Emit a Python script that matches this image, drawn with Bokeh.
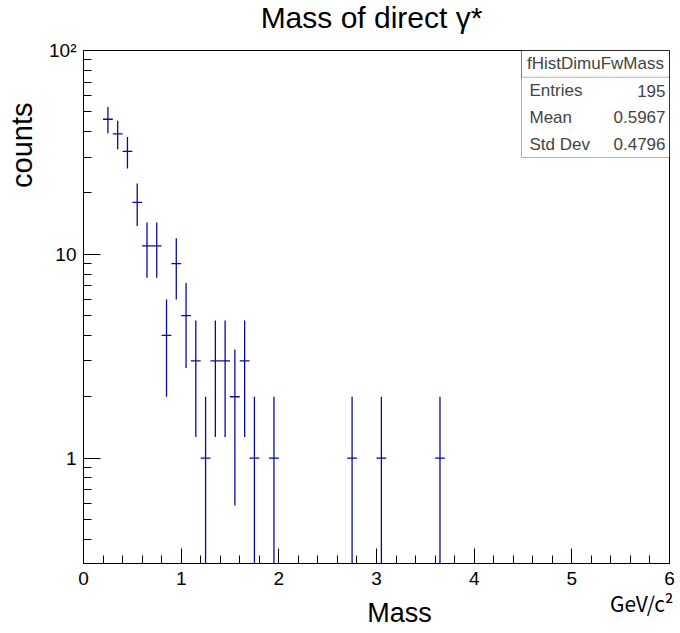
import numpy as np
from bokeh.plotting import figure
from bokeh.models import FixedTicker, Label, BoxAnnotation, CustomJSTickFormatter, Title
from bokeh.embed import file_html
from bokeh.resources import INLINE

# ---- data ----
bin_centers = [0.25, 0.35, 0.45, 0.55, 0.65, 0.75, 0.85, 0.95, 1.05, 1.15,
               1.25, 1.35, 1.45, 1.55, 1.65, 1.75, 1.95, 2.75, 3.05, 3.65]
counts = [46, 39, 32, 18, 11, 11, 4, 9, 5, 3,
          1, 3, 3, 2, 3, 1, 1, 1, 1, 1]
bin_width = 0.1

x_major_ticks = [0, 1, 2, 3, 4, 5, 6]
x_minor_ticks = [round(0.2 * i, 1) for i in range(31)]
y_major_ticks = [1, 10, 100]
y_major_labels = ["1", "10", "10²"]
y_minor_ticks = [0.3, 0.4, 0.5, 0.6, 0.7, 0.8, 0.9,
                 2, 3, 4, 5, 6, 7, 8, 9,
                 20, 30, 40, 50, 60, 70, 80, 90]

stat_title = "fHistDimuFwMass"
stat_names = ["Entries", "Mean", "Std Dev"]
stat_values = ["195", "0.5967", "0.4796"]

title_text = "Mass of direct γ*"
x_title = "Mass"
x_unit = "GeV/c²"
y_title = "counts"

# ---- figure / layout ----
FRAME_L, FRAME_R, FRAME_T, FRAME_B = 83, 11, 50, 70
W, H = 680, 633
X0, X1 = 0, 6
Y0, Y1 = 0.304, 100
p = figure(width=W, height=H, x_range=(X0, X1), y_range=(Y0, Y1),
           y_axis_type="log", output_backend="svg", toolbar_location=None,
           min_border_left=FRAME_L, min_border_right=FRAME_R,
           min_border_top=FRAME_T, min_border_bottom=FRAME_B)
p.background_fill_color = "white"
p.border_fill_color = "white"
p.outline_line_color = "black"
p.outline_line_width = 1
p.xgrid.visible = False
p.ygrid.visible = False

FW = W - FRAME_L - FRAME_R
FH = H - FRAME_T - FRAME_B

def sx(cx):
    return cx - FRAME_L

def sy(cy):
    return H - FRAME_B - cy

def dx(cx):
    # canvas pixel -> data x (frame scale)
    return X0 + (cx - FRAME_L) / FW * (X1 - X0)

def dy(cy):
    # canvas pixel -> data y (log frame scale)
    l0, l1 = np.log10(Y0), np.log10(Y1)
    return 10 ** (l0 + (H - FRAME_B - cy) / FH * (l1 - l0))

xa = p.xaxis[0]
ya = p.yaxis[0]
xa.ticker = FixedTicker(ticks=x_major_ticks, minor_ticks=x_minor_ticks)
ya.ticker = FixedTicker(ticks=y_major_ticks, minor_ticks=y_minor_ticks)
ya.formatter = CustomJSTickFormatter(
    args=dict(vals=y_major_ticks, labs=y_major_labels),
    code="const i = vals.findIndex(v => Math.abs(v - tick) < 1e-6*Math.max(1,v)); return i >= 0 ? labs[i] : String(tick);")

for ax, mj in ((xa, 15), (ya, 17)):
    ax.major_tick_in = mj
    ax.major_tick_out = 0
    ax.minor_tick_in = 8
    ax.minor_tick_out = 0
    ax.axis_line_color = "black"
    ax.major_tick_line_color = "black"
    ax.minor_tick_line_color = "black"
    ax.major_label_text_font = "Liberation Sans"
    ax.major_label_text_font_size = "19px"
    ax.major_label_text_color = "black"
xa.major_label_standoff = 8
ya.major_label_standoff = 7

# ---- histogram with error bars ----
x = np.array(bin_centers, dtype=float)
y = np.array(counts, dtype=float)
err = np.sqrt(y)
lo = np.where(y - err > 0, y - err, 1e-3)
col = "#0a0a9e"
p.segment(x0=x, y0=lo, x1=x, y1=y + err, line_color=col, line_width=1.3)
p.segment(x0=x - bin_width / 2, y0=y, x1=x + bin_width / 2, y1=y,
          line_color=col, line_width=1.3)

# ---- stats box ----
box_l, box_r, box_t, box_b = 521, 669, 50, 157
row_h = (box_b - box_t) / 4.0
p.add_layout(BoxAnnotation(left=sx(box_l), right=sx(box_r), top=sy(box_t), bottom=sy(box_b),
                           left_units="screen", right_units="screen",
                           top_units="screen", bottom_units="screen",
                           fill_color="white", fill_alpha=1.0,
                           line_color="black", line_width=1, level="overlay"))
p.add_layout(BoxAnnotation(left=sx(box_l), right=sx(box_r), top=sy(box_t), bottom=sy(box_t + row_h),
                           left_units="screen", right_units="screen",
                           top_units="screen", bottom_units="screen",
                           fill_alpha=0.0, line_color="black", line_width=1, level="overlay"))
p.add_layout(Label(x=sx((box_l + box_r) / 2), y=sy(box_t + row_h / 2), x_units="screen", y_units="screen",
                   text=stat_title, text_align="center", text_baseline="middle",
                   text_font="Liberation Sans", text_font_size="17px", level="overlay"))
for i, (nm, vl) in enumerate(zip(stat_names, stat_values)):
    cy = box_t + row_h * (i + 1.5)
    p.add_layout(Label(x=sx(529), y=sy(cy), x_units="screen", y_units="screen",
                       text=nm, text_align="left", text_baseline="middle",
                       text_font="Liberation Sans", text_font_size="17px", level="overlay"))
    p.add_layout(Label(x=sx(665), y=sy(cy), x_units="screen", y_units="screen",
                       text=vl, text_align="right", text_baseline="middle",
                       text_font="Liberation Sans", text_font_size="17px", level="overlay"))

# ---- outer texts (in side panels, so they are not clipped to the frame) ----
# anchors are the vertical middle of each text box
p.add_layout(Label(x=dx(371), y=dy(17.2), text=title_text, text_align="center",
                   text_baseline="middle", text_font="Liberation Sans",
                   text_font_size="30px", text_color="black"), "above")
p.add_layout(Label(x=dx(21.5), y=dy(102), text=y_title, text_align="right",
                   text_baseline="middle", angle=np.pi / 2,
                   text_font="Liberation Sans", text_font_size="29px",
                   text_color="black"), "left")
p.add_layout(Label(x=dx(399), y=dy(612.6), text=x_title, text_align="center",
                   text_baseline="middle", text_font="Liberation Sans",
                   text_font_size="27px", text_color="black"), "below")
p.add_layout(Title(text=x_unit, align="right", offset=-4, vertical_align="top",
                   standoff=-59, text_font="Noto Sans CJK JP", text_font_size="21px",
                   text_font_style="normal", text_color="black"), "below")

open("out.html", "w").write(file_html(p, INLINE))
